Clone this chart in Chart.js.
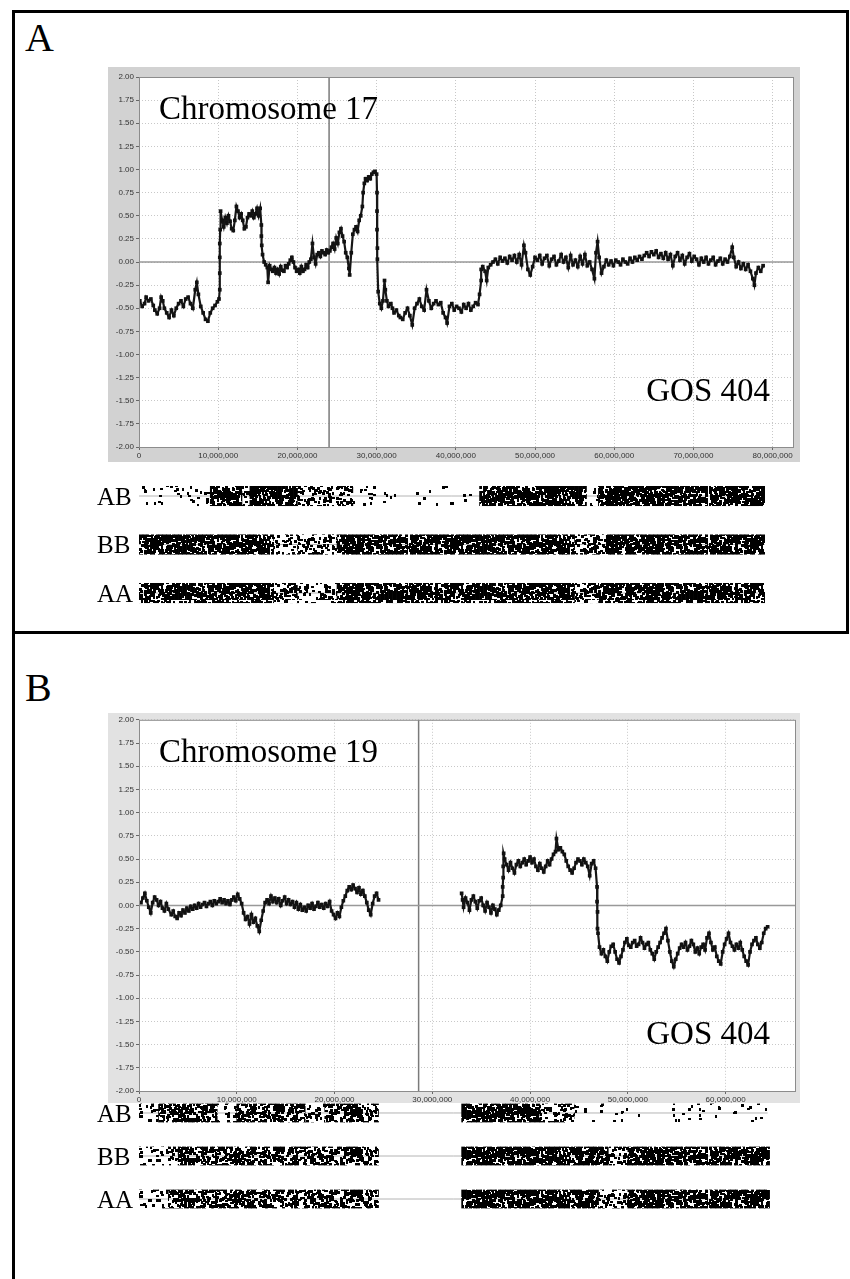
<!DOCTYPE html>
<html>
<head>
<meta charset="utf-8">
<script src="https://cdn.jsdelivr.net/npm/chart.js@4.4.1/dist/chart.umd.min.js"></script>
<style>
html, body { margin: 0; padding: 0; background: #fff; }
body { width: 850px; height: 1279px; position: relative; overflow: hidden; font-family: "Liberation Serif", "Times New Roman", serif; }
canvas { position: absolute; }
.t { position: absolute; line-height: 1; white-space: nowrap; color: #000; }
</style>
</head>
<body>
<div style="position:absolute;box-sizing:border-box;left:12px;top:10px;width:837px;height:624px;border:3px solid #000;"></div>
<div style="position:absolute;left:12px;top:631px;width:3px;height:648px;background:#000;"></div>

<div class="t" style="left:25px;top:18px;font-size:40px;">A</div>
<div class="t" style="left:25px;top:668px;font-size:40px;">B</div>

<canvas id="chartA" width="692" height="395" style="left:108px;top:67px;"></canvas>
<canvas id="stripsA" width="692" height="130" style="left:108px;top:480px;"></canvas>
<canvas id="chartB" width="692" height="390" style="left:108px;top:713px;"></canvas>
<canvas id="stripsB" width="692" height="120" style="left:108px;top:1096px;"></canvas>

<div class="t" style="left:159px;top:92px;font-size:33px;">Chromosome 17</div>
<div class="t" style="left:560px;width:210px;text-align:right;top:374px;font-size:33px;">GOS 404</div>
<div class="t" style="left:159px;top:735px;font-size:33px;">Chromosome 19</div>
<div class="t" style="left:560px;width:210px;text-align:right;top:1017px;font-size:33px;">GOS 404</div>

<div class="t" style="left:97px;top:484px;font-size:25px;">AB</div>
<div class="t" style="left:97px;top:532px;font-size:25px;">BB</div>
<div class="t" style="left:97px;top:581px;font-size:25px;">AA</div>
<div class="t" style="left:97px;top:1101px;font-size:25px;">AB</div>
<div class="t" style="left:97px;top:1144px;font-size:25px;">BB</div>
<div class="t" style="left:97px;top:1187px;font-size:25px;">AA</div>

<script>
// log ratio along the chromosome, [position in Mb, ratio]
const chr17 = [
  [0.1,-0.42],[0.4,-0.48],[0.7,-0.45],[0.9,-0.38],[1.2,-0.42],[1.5,-0.40],[1.8,-0.47],[2.0,-0.52],[2.3,-0.56],[2.6,-0.50],
  [2.8,-0.38],[3.0,-0.42],[3.2,-0.50],[3.5,-0.55],[3.8,-0.60],[4.1,-0.52],[4.4,-0.58],[4.7,-0.50],[5.0,-0.45],[5.3,-0.42],
  [5.6,-0.48],[5.9,-0.40],[6.2,-0.38],[6.5,-0.45],[6.8,-0.50],[7.1,-0.30],[7.3,-0.22],[7.5,-0.35],[7.8,-0.48],[8.1,-0.55],
  [8.4,-0.62],[8.7,-0.64],[9.0,-0.55],[9.3,-0.50],[9.6,-0.47],[9.9,-0.43],[10.1,-0.40],
  [10.2,-0.30],[10.2,-0.12],[10.2,0.05],[10.2,0.20],[10.25,0.35],[10.3,0.55],
  [10.5,0.45],[10.7,0.38],[10.9,0.48],[11.1,0.42],[11.3,0.50],[11.5,0.44],[11.7,0.36],[11.9,0.34],[12.1,0.45],[12.3,0.60],
  [12.5,0.55],[12.7,0.48],[12.9,0.52],[13.1,0.45],[13.3,0.36],[13.5,0.38],[13.7,0.48],[13.9,0.52],[14.1,0.50],[14.3,0.55],
  [14.5,0.48],[14.7,0.52],[14.9,0.58],[15.1,0.50],[15.3,0.58],
  [15.45,0.40],[15.45,0.28],[15.5,0.18],[15.6,0.08],
  [15.8,0.00],[16.0,-0.03],[16.2,-0.06],[16.3,-0.22],[16.5,-0.04],[16.7,-0.08],[16.9,-0.10],[17.1,-0.06],[17.3,-0.12],[17.5,-0.08],
  [17.7,-0.13],[17.9,-0.05],[18.1,-0.09],[18.3,-0.10],[18.5,-0.04],[18.7,-0.06],[18.9,-0.02],[19.1,0.02],[19.3,0.05],[19.5,0.00],
  [19.7,-0.06],[19.9,-0.10],[20.1,-0.08],[20.3,-0.12],[20.5,-0.05],[20.7,-0.10],[20.9,-0.08],[21.1,-0.03],[21.3,-0.06],[21.5,0.00],
  [21.7,0.03],[21.9,0.20],[22.1,0.05],[22.3,-0.02],[22.5,0.08],[22.7,0.10],[22.9,0.06],[23.1,0.12],[23.3,0.10],[23.5,0.08],
  [23.7,0.13],[23.9,0.10],[24.1,0.12],[24.3,0.16],[24.5,0.20],[24.7,0.14],[24.9,0.26],[25.1,0.20],[25.3,0.32],[25.5,0.36],
  [25.7,0.28],[25.9,0.22],[26.1,0.10],[26.3,0.05],[26.5,-0.07],[26.6,-0.14],[26.8,0.10],[27.0,0.30],[27.2,0.35],[27.4,0.38],
  [27.6,0.33],[27.8,0.45],[28.0,0.50],[28.2,0.60],[28.3,0.75],[28.45,0.85],[28.6,0.90],[28.8,0.88],[29.0,0.92],[29.2,0.90],
  [29.4,0.95],[29.6,0.97],[29.8,0.98],[30.0,0.95],
  [30.05,0.75],[30.05,0.55],[30.05,0.35],[30.1,0.15],[30.1,0.03],
  [30.2,-0.32],[30.4,-0.45],[30.6,-0.50],[30.8,-0.42],[31.0,-0.20],[31.1,-0.30],[31.3,-0.42],[31.5,-0.48],[31.8,-0.45],[32.0,-0.50],
  [32.2,-0.55],[32.5,-0.52],[32.8,-0.58],[33.0,-0.60],[33.3,-0.62],[33.6,-0.55],[33.9,-0.50],[34.2,-0.58],[34.5,-0.68],[34.8,-0.50],
  [35.1,-0.45],[35.4,-0.40],[35.7,-0.48],[36.0,-0.52],[36.3,-0.30],[36.6,-0.42],[36.9,-0.50],[37.2,-0.45],[37.5,-0.42],[37.8,-0.46],
  [38.1,-0.44],[38.4,-0.55],[38.7,-0.60],[38.9,-0.66],[39.2,-0.48],[39.5,-0.45],[39.8,-0.52],[40.1,-0.48],[40.4,-0.50],[40.7,-0.54],
  [41.0,-0.46],[41.3,-0.50],[41.6,-0.45],[41.9,-0.52],[42.2,-0.48],[42.5,-0.44],[42.8,-0.46],[43.0,-0.35],
  [43.2,-0.20],[43.2,-0.08],
  [43.4,-0.05],[43.7,-0.10],[43.9,-0.20],[44.1,-0.06],[44.4,-0.03],[44.7,0.00],[45.0,0.03],[45.3,-0.02],[45.6,0.05],[45.9,0.01],
  [46.2,0.04],[46.5,-0.01],[46.8,0.06],[47.1,0.02],[47.4,0.07],[47.7,0.00],[48.0,0.08],[48.3,-0.03],[48.6,0.18],[48.8,0.10],
  [49.1,-0.08],[49.4,-0.14],[49.7,-0.05],[50.0,0.05],[50.3,0.02],[50.6,0.07],[50.9,-0.02],[51.2,0.04],[51.5,0.07],[51.8,-0.04],
  [52.1,0.03],[52.4,0.06],[52.7,-0.03],[53.0,0.01],[53.3,0.08],[53.6,0.00],[53.9,0.05],[54.2,-0.06],[54.5,0.07],[54.8,-0.03],
  [55.1,0.02],[55.4,-0.05],[55.7,0.06],[56.0,-0.02],[56.3,0.08],[56.6,-0.04],[56.9,0.00],[57.2,-0.08],[57.5,-0.18],[57.7,0.10],
  [57.9,0.22],[58.1,0.05],[58.4,-0.12],[58.7,-0.05],[59.0,0.02],[59.3,-0.03],[59.6,0.01],[59.9,-0.04],[60.2,0.02],[60.5,0.00],
  [60.8,-0.03],[61.1,0.03],[61.4,0.00],[61.7,-0.02],[62.0,0.04],[62.3,0.00],[62.6,0.05],[62.9,0.02],[63.2,0.06],[63.5,0.03],
  [63.8,0.07],[64.1,0.10],[64.4,0.06],[64.7,0.11],[65.0,0.08],[65.3,0.12],[65.6,0.05],[65.9,0.09],[66.2,0.04],[66.5,0.10],
  [66.8,0.03],[67.1,0.08],[67.4,-0.04],[67.7,0.06],[68.0,0.10],[68.3,0.02],[68.6,0.07],[68.9,-0.02],[69.2,0.05],[69.5,0.09],
  [69.8,0.01],[70.1,0.06],[70.4,0.03],[70.7,-0.03],[71.0,0.04],[71.3,0.00],[71.6,0.05],[71.9,-0.02],[72.2,0.02],[72.5,0.05],
  [72.8,-0.03],[73.1,0.01],[73.4,0.04],[73.7,-0.02],[74.0,0.03],[74.3,0.00],[74.6,0.06],[74.9,0.16],[75.1,0.05],[75.4,-0.05],
  [75.7,0.00],[76.0,-0.07],[76.3,-0.02],[76.6,-0.08],[76.9,-0.03],[77.2,-0.10],[77.5,-0.18],[77.7,-0.25],[77.9,-0.12],[78.2,-0.06],
  [78.5,-0.10],[78.8,-0.04]
];

const chr19 = [
  [0.2,0.03],[0.4,0.08],[0.6,0.13],[0.8,0.05],[1.0,-0.02],[1.2,-0.08],[1.4,0.03],[1.6,0.09],[1.8,0.06],[2.0,0.00],
  [2.2,0.04],[2.4,-0.03],[2.6,-0.06],[2.8,0.02],[3.0,-0.04],[3.3,-0.10],[3.5,-0.06],[3.7,-0.12],[3.9,-0.14],[4.1,-0.08],
  [4.3,-0.11],[4.5,-0.05],[4.7,-0.08],[4.9,-0.03],[5.1,-0.06],[5.3,-0.01],[5.5,-0.04],[5.7,0.00],[5.9,-0.03],[6.1,0.02],
  [6.3,-0.02],[6.5,0.01],[6.7,0.03],[6.9,-0.01],[7.1,0.02],[7.3,0.04],[7.5,0.00],[7.7,0.05],[7.9,0.02],[8.1,0.04],
  [8.3,0.07],[8.5,0.03],[8.7,0.06],[8.9,0.02],[9.1,0.05],[9.3,0.01],[9.5,0.06],[9.7,0.09],[9.9,0.05],[10.1,0.12],
  [10.3,0.07],[10.5,0.02],[10.7,-0.08],[10.9,-0.15],[11.1,-0.12],[11.3,-0.20],[11.5,-0.10],[11.7,-0.18],[11.9,-0.14],[12.1,-0.22],
  [12.3,-0.28],[12.5,-0.16],[12.7,-0.06],[12.9,0.03],[13.1,0.06],[13.3,0.02],[13.5,0.10],[13.7,0.04],[13.9,0.08],[14.1,0.03],
  [14.3,0.07],[14.5,0.00],[14.7,0.05],[14.9,0.09],[15.1,0.02],[15.3,0.06],[15.5,0.01],[15.7,0.04],[15.9,-0.02],[16.1,0.03],
  [16.3,-0.04],[16.5,0.01],[16.7,-0.05],[16.9,-0.02],[17.1,-0.06],[17.3,0.00],[17.5,-0.03],[17.7,0.02],[17.9,-0.04],[18.1,-0.01],
  [18.3,0.03],[18.5,-0.02],[18.7,0.01],[18.9,-0.03],[19.1,0.02],[19.3,-0.01],[19.5,0.04],[19.7,-0.06],[19.9,-0.10],[20.1,-0.14],
  [20.3,-0.08],[20.5,-0.12],[20.7,-0.02],[20.9,0.05],[21.1,0.10],[21.3,0.16],[21.5,0.20],[21.7,0.17],[21.9,0.22],[22.1,0.18],
  [22.3,0.14],[22.5,0.19],[22.7,0.12],[22.9,0.16],[23.1,0.10],[23.3,0.03],[23.5,-0.05],[23.7,-0.10],[23.9,0.02],[24.1,0.10],
  [24.3,0.13],[24.5,0.06],
  [33.0,0.13],[33.1,0.06],[33.2,-0.02],[33.4,0.08],[33.6,0.03],[33.8,-0.05],[34.0,0.06],[34.2,0.10],[34.4,0.04],[34.6,-0.03],
  [34.8,0.05],[35.0,0.08],[35.2,0.00],[35.4,-0.06],[35.6,0.03],[35.8,-0.02],[36.0,-0.08],[36.2,0.00],[36.4,-0.04],[36.6,-0.10],
  [36.8,-0.05],[37.0,0.00],
  [37.2,0.10],[37.2,0.20],[37.25,0.30],[37.25,0.42],[37.3,0.56],
  [37.4,0.50],[37.6,0.44],[37.8,0.38],[38.0,0.46],[38.2,0.40],[38.4,0.35],[38.6,0.44],[38.8,0.48],[39.0,0.42],[39.2,0.46],
  [39.4,0.50],[39.6,0.44],[39.8,0.48],[40.0,0.52],[40.2,0.46],[40.4,0.50],[40.6,0.42],[40.8,0.38],[41.0,0.45],[41.2,0.40],
  [41.4,0.36],[41.6,0.42],[41.8,0.48],[42.0,0.44],[42.2,0.50],[42.4,0.55],[42.6,0.58],[42.7,0.72],[42.9,0.60],[43.1,0.62],
  [43.3,0.58],[43.5,0.55],[43.7,0.48],[43.9,0.42],[44.1,0.38],[44.3,0.35],[44.5,0.40],[44.7,0.46],[44.9,0.50],[45.1,0.48],
  [45.3,0.44],[45.5,0.50],[45.7,0.46],[45.9,0.42],[46.1,0.32],[46.3,0.45],[46.5,0.48],[46.7,0.40],
  [46.85,0.20],[46.85,0.04],[46.9,-0.07],[46.9,-0.25],[46.95,-0.30],
  [47.1,-0.45],[47.3,-0.52],[47.5,-0.48],[47.7,-0.55],[47.9,-0.60],[48.1,-0.50],[48.3,-0.44],[48.5,-0.42],[48.7,-0.50],[48.9,-0.58],
  [49.1,-0.62],[49.3,-0.55],[49.5,-0.48],[49.7,-0.40],[49.9,-0.36],[50.1,-0.43],[50.3,-0.45],[50.5,-0.40],[50.7,-0.38],[50.9,-0.44],
  [51.1,-0.42],[51.3,-0.35],[51.5,-0.40],[51.7,-0.46],[51.9,-0.42],[52.1,-0.40],[52.3,-0.48],[52.5,-0.52],[52.7,-0.58],[52.9,-0.50],
  [53.1,-0.45],[53.3,-0.40],[53.5,-0.35],[53.7,-0.30],[53.9,-0.25],[54.1,-0.38],[54.3,-0.50],[54.5,-0.60],[54.7,-0.66],[54.9,-0.58],
  [55.1,-0.52],[55.3,-0.46],[55.5,-0.42],[55.7,-0.45],[55.9,-0.40],[56.1,-0.48],[56.3,-0.44],[56.5,-0.38],[56.7,-0.42],[56.9,-0.50],
  [57.1,-0.46],[57.3,-0.52],[57.5,-0.45],[57.7,-0.42],[57.9,-0.48],[58.1,-0.35],[58.3,-0.30],[58.5,-0.40],[58.7,-0.48],[58.9,-0.45],
  [59.1,-0.55],[59.3,-0.60],[59.5,-0.63],[59.7,-0.50],[59.9,-0.42],[60.1,-0.36],[60.3,-0.30],[60.5,-0.40],[60.7,-0.44],[60.9,-0.48],
  [61.1,-0.42],[61.3,-0.46],[61.5,-0.40],[61.7,-0.48],[61.9,-0.55],[62.1,-0.60],[62.3,-0.64],[62.5,-0.50],[62.7,-0.42],[62.9,-0.38],
  [63.1,-0.35],[63.3,-0.42],[63.5,-0.46],[63.7,-0.40],[63.9,-0.30],[64.1,-0.25],[64.3,-0.23]
];

const centromere17 = 24.0;
const centromere19 = 28.6;
const xMax17 = 82.7;
const xMax19 = 67.2;
const extent17 = [0, 79];
const extent19 = [0, 64.3];

// genotype call density per stretch: [from Mb, to Mb, density 0..3]
const ab17 = [[0,9,1],[9,13,3],[13,14,2],[14,20,3],[20,27,2],[27,30,1],[30,43,0.5],[43,56.5,3],[56.5,58,1],[58,79,3]];
const bb17 = [[0,17,3],[17,20,1.5],[20,25,2],[25,55,3],[55,59,2],[59,79,3]];
const aa17 = [[0,17,3],[17,20,2],[20,25,1.5],[25,55,3],[55,58,2],[58,79,3]];
const ab19 = [[0,2,1.5],[2,8,2.5],[8,10,1.5],[10,17,2.5],[17,19,1.5],[19,24.6,2.5],[33,41,3],[41,44.5,2],[44.5,64.3,0.7]];
const bb19 = [[0,4,1.5],[4,24.6,2.5],[33,48,3],[48,50,2],[50,64.3,3]];
const aa19 = [[0,3,1.5],[3,24.6,2.5],[33,47,3],[47,50,2],[50,64.3,3]];

const genoRows = { AB: 2, BB: 1, AA: 0 };

// ---- helpers ----
function noise(i) {
  const s = Math.sin(i * 127.1 + 311.7) * 43758.5453;
  return s - Math.floor(s);
}

const coverage = { 0.5: 0.07, 0.7: 0.09, 1: 0.18, 1.5: 0.4, 2: 0.75, 2.5: 1.3, 3: 2.0 };

function makeSpeckles(ctx) {
  const out = {};
  Object.keys(coverage).forEach(function (k, idx) {
    const c = document.createElement('canvas');
    c.width = 300; c.height = 40;
    const g = c.getContext('2d');
    g.fillStyle = '#000';
    const n = Math.round(coverage[k] * 300 * 40 / 8);
    for (let i = 0; i < n; i++) {
      const base = idx * 100000 + i * 3;
      const px = Math.floor(noise(base + 1) * 300);
      const py = Math.floor(noise(base + 2) * 40);
      const r = noise(base + 3);
      g.fillRect(px, py, r < 0.35 ? 2 : 3, r < 0.7 ? 3 : 2);
    }
    out[k] = ctx.createPattern(c, 'repeat');
  });
  return out;
}

function bins(segs, row, half) {
  const out = [];
  segs.forEach(function (s) {
    for (let x = s[0] + 0.25; x < s[1]; x += 0.5) {
      out.push({ x: x, y: [row - half, row + half], d: s[2] });
    }
  });
  return out;
}

// break the trace where the probes stop (no data across the gap)
function trace(points) {
  const out = [];
  points.forEach(function (p, i) {
    if (i > 0 && p[0] - points[i - 1][0] > 3) out.push({ x: (p[0] + points[i - 1][0]) / 2, y: null });
    out.push({ x: p[0], y: p[1] });
  });
  return out;
}

const panelBg = {
  id: 'panelBg',
  beforeDraw(chart, args, opts) {
    if (!opts.color) return;
    const { ctx, chartArea: a } = chart;
    ctx.save();
    ctx.fillStyle = opts.color;
    ctx.fillRect(0, 0, chart.width, chart.height);
    ctx.fillStyle = '#fff';
    ctx.fillRect(a.left, a.top, a.right - a.left, a.bottom - a.top);
    ctx.restore();
  },
  afterDraw(chart, args, opts) {
    if (!opts.color) return;
    const { ctx, chartArea: a } = chart;
    ctx.save();
    ctx.strokeStyle = '#8c8c8c';
    ctx.lineWidth = 1;
    ctx.strokeRect(a.left + 0.5, a.top + 0.5, a.right - a.left - 1, a.bottom - a.top);
    ctx.restore();
  }
};
Chart.register(panelBg);

function ratioChart(id, points, xMax, centro, bg, padTop, padRight, xAxisH) {
  new Chart(document.getElementById(id), {
    type: 'scatter',
    data: {
      datasets: [
        {
          data: trace(points),
          showLine: true,
          spanGaps: false,
          borderColor: '#161616',
          borderWidth: 2.2,
          backgroundColor: '#111',
          pointStyle: 'rect',
          pointRadius: 2.6,
          pointBorderWidth: 0,
          order: 0
        },
        {
          type: 'line',
          data: [{ x: 0, y: 0 }, { x: xMax, y: 0 }],
          borderColor: '#999',
          borderWidth: 1.5,
          pointRadius: 0,
          order: 5
        },
        {
          type: 'line',
          data: [{ x: centro, y: -2 }, { x: centro, y: 2 }],
          borderColor: '#7a7a7a',
          borderWidth: 1.5,
          pointRadius: 0,
          order: 5
        }
      ]
    },
    options: {
      responsive: false,
      animation: false,
      events: [],
      layout: { padding: { top: padTop, right: padRight, left: 0, bottom: 0 } },
      plugins: { legend: { display: false }, tooltip: { enabled: false }, panelBg: { color: bg } },
      scales: {
        x: {
          type: 'linear', min: 0, max: xMax,
          afterFit: s => { s.height = xAxisH; },
          border: { display: false, dash: [1, 2] },
          grid: { color: '#c8c8c8', tickColor: '#666', tickLength: 3 },
          ticks: {
            stepSize: 10, includeBounds: false, maxRotation: 0, padding: 1,
            color: '#333', font: { family: 'Liberation Sans, Arial, sans-serif', size: 8 },
            callback: v => (v * 1000000).toLocaleString('en-US')
          }
        },
        y: {
          min: -2, max: 2,
          afterFit: s => { s.width = 31; },
          border: { display: false, dash: [1, 2] },
          grid: { color: '#c8c8c8', tickColor: '#666', tickLength: 3 },
          ticks: {
            stepSize: 0.25, padding: 2,
            color: '#333', font: { family: 'Liberation Sans, Arial, sans-serif', size: 8 },
            callback: v => v.toFixed(2)
          }
        }
      }
    }
  });
}

function stripChart(id, tracks, extent, xMax, yMin, yMax, half, padRight) {
  const canvas = document.getElementById(id);
  const speckles = makeSpeckles(canvas.getContext('2d'));
  const datasets = [];
  Object.keys(tracks).forEach(function (name) {
    const row = genoRows[name];
    datasets.push({
      type: 'bar',
      data: bins(tracks[name], row, half),
      grouped: false,
      barPercentage: 1,
      categoryPercentage: 1,
      borderWidth: 0,
      backgroundColor: c => (c.raw ? speckles[c.raw.d] : '#000'),
      order: 0
    });
    datasets.push({
      type: 'line',
      data: [{ x: extent[0], y: row }, { x: extent[1], y: row }],
      borderColor: '#b4b4b4',
      borderWidth: 1,
      pointRadius: 0,
      order: 10
    });
  });
  new Chart(canvas, {
    type: 'bar',
    data: { datasets: datasets },
    options: {
      responsive: false,
      animation: false,
      events: [],
      layout: { padding: { top: 0, right: padRight, left: 31, bottom: 0 } },
      plugins: { legend: { display: false }, tooltip: { enabled: false } },
      scales: {
        x: { type: 'linear', min: 0, max: xMax, offset: false, display: false },
        y: { type: 'linear', min: yMin, max: yMax, display: false }
      }
    }
  });
}

ratioChart('chartA', chr17, xMax17, centromere17, '#d2d2d2', 10, 6, 15);
ratioChart('chartB', chr19, xMax19, centromere19, '#e2e2e2', 6, 4, 12);
stripChart('stripsA', { AB: ab17, BB: bb17, AA: aa17 }, extent17, xMax17, -0.35, 2.33, 0.2, 6);
stripChart('stripsB', { AB: ab19, BB: bb19, AA: aa19 }, extent19, xMax19, -0.395, 2.395, 0.21, 4);
</script>
</body>
</html>
